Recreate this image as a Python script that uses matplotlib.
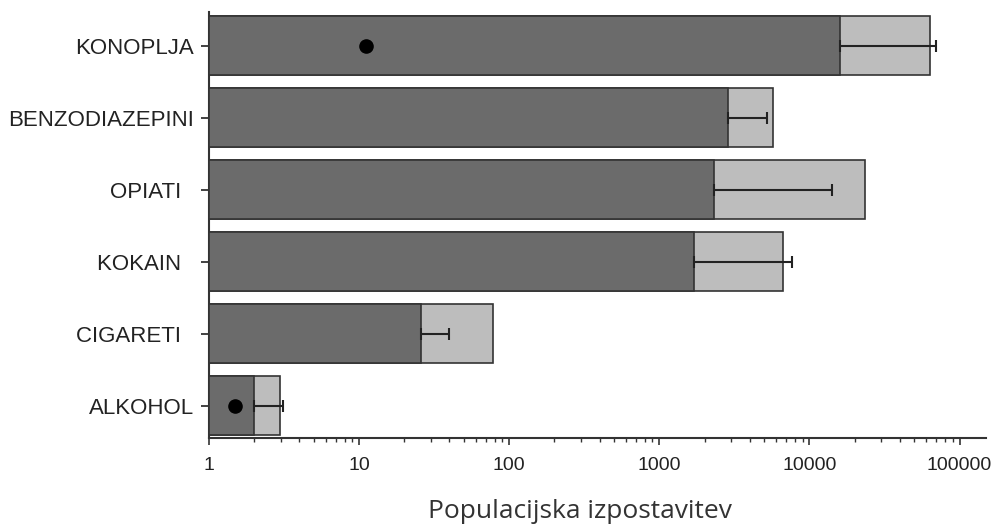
import numpy as np
import matplotlib
matplotlib.use('Agg')
import matplotlib.pyplot as plt

# Podatki (odčitani s slike), od spodaj navzgor
kategorije = ['ALKOHOL', 'CIGARETI  ', 'KOKAIN  ', 'OPIATI  ', 'BENZODIAZEPINI', 'KONOPLJA']
temni = [2.0, 25.8, 1690, 2330, 2870, 16000]       # temni del stolpca
svetli = [2.97, 77.8, 6700, 23600, 5750, 63800]    # svetli del stolpca
napaka = [3.1, 39.8, 7600, 14200, 5200, 69700]     # konec napake
pike_y = [0, 5]
pike_x = [1.5, 11.1]

y = np.arange(len(kategorije))

fig = plt.figure(figsize=(10, 5.28), dpi=100)
ax = fig.add_axes([0.209, 0.1714, 0.777, 0.806])

ax.set_xscale('log')
h = 0.82
ax.barh(y, np.array(svetli) - 1, left=1, height=h, color='#bdbdbd',
        edgecolor='#333333', linewidth=1.2, zorder=2)
ax.barh(y, np.array(temni) - 1, left=1, height=h, color='#6b6b6b',
        edgecolor='#333333', linewidth=1.2, zorder=3)

xerr = [np.zeros(len(y)), np.array(napaka) - np.array(temni)]
ax.errorbar(temni, y, xerr=xerr, fmt='none', ecolor='#222222',
            elinewidth=1.5, capsize=4, capthick=1.5, zorder=4)

ax.scatter(pike_x, pike_y, s=90, color='black', zorder=5)

ax.set_xlim(1, 150000)
ax.set_ylim(-0.44, 5.47)

ax.set_yticks(y)
ax.set_yticklabels(kategorije, fontsize=16, family='Liberation Sans', color='#222222')
ax.tick_params(axis='y', length=6, width=1.3, pad=5, color='#333333')

ticks = [1, 10, 100, 1000, 10000, 100000]
ax.set_xticks(ticks)
ax.set_xticklabels([str(t) for t in ticks], fontsize=14, family='Liberation Sans', color='#222222')
ax.set_xticks([m * 10**e for e in range(0, 6) for m in range(2, 10) if m * 10**e < 150000], minor=True)
ax.xaxis.set_minor_formatter(plt.NullFormatter())
ax.tick_params(axis='x', which='major', length=5, width=1.2, pad=9, color='#333333')
ax.tick_params(axis='x', which='minor', length=3, width=1.0, color='#333333')

for s in ['top', 'right']:
    ax.spines[s].set_visible(False)
for s in ['left', 'bottom']:
    ax.spines[s].set_linewidth(1.5)
    ax.spines[s].set_color('#333333')

ax.set_xlabel('Populacijska izpostavitev', fontsize=19, family='Open Sans',
              color='#333333', labelpad=18)
ax.xaxis.label.set_x(0.477)

fig.savefig('out.png', dpi=100)
